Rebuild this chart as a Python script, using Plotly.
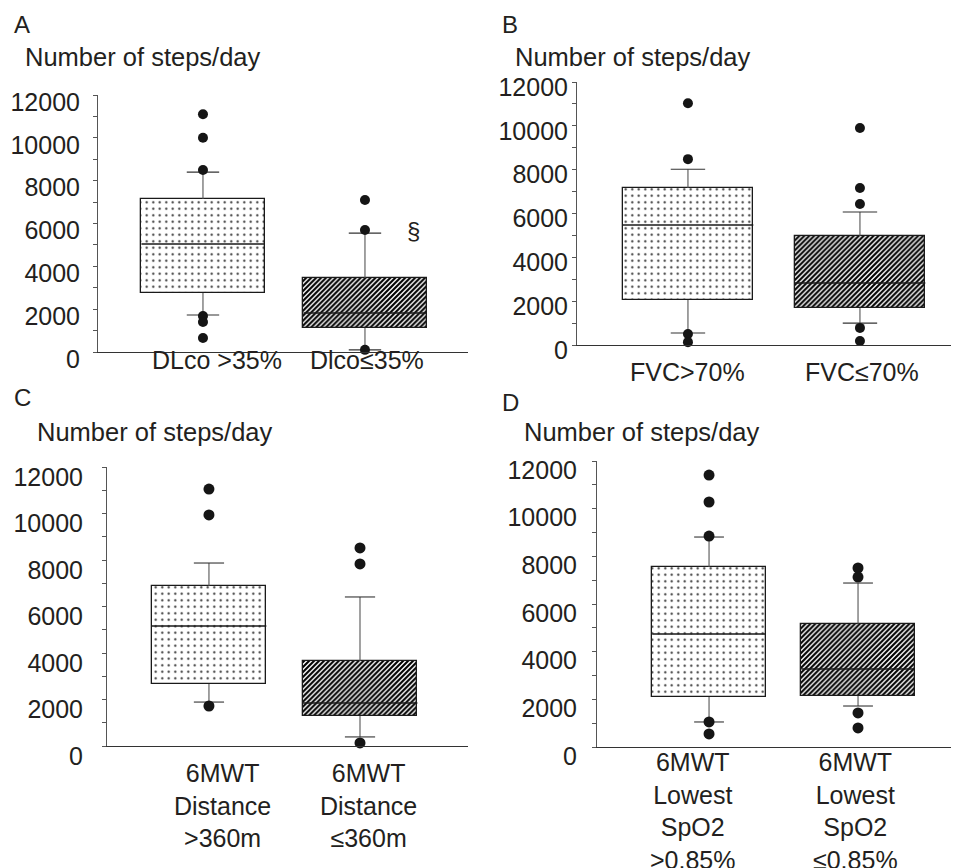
import plotly.graph_objects as go

# target canvas (page pixels) and the page's default body margin
W, H = 959, 868
OFF = 8
FW, FH = W - OFF, H - OFF
FONT = "Liberation Sans, Arial, Helvetica, sans-serif"
TXT = "#231f20"

# ---------------- data (number of steps/day) ----------------
y_ticks = [0, 2000, 4000, 6000, 8000, 10000, 12000]
y_tick_labels = ["0", "2000", "4000", "6000", "8000", "10000", "12000"]
y_minor_ticks = [1000, 3000, 5000, 7000, 9000, 11000]

A_labels = ["DLco >35%", "Dlco≤35%"]
A_q1 = [2750, 1120]
A_median = [5040, 1820]
A_q3 = [7140, 3450]
A_lower = [1730, 100]
A_upper = [8400, 5550]
A_outliers_1 = [11100, 10000, 8500, 1680, 1400, 650]
A_outliers_2 = [7100, 5700, 100]

B_labels = ["FVC>70%", "FVC≤70%"]
B_q1 = [2050, 1690]
B_median = [5470, 2830]
B_q3 = [7160, 4970]
B_lower = [550, 1000]
B_upper = [8020, 6070]
B_outliers_1 = [11030, 8480, 500, 130]
B_outliers_2 = [9900, 7160, 6430, 780, 180]

C_labels = ["6MWT<br>Distance<br>>360m", "6MWT<br>Distance<br>≤360m"]
C_q1 = [2670, 1290]
C_median = [5160, 1850]
C_q3 = [6880, 3660]
C_lower = [1890, 390]
C_upper = [7870, 6410]
C_outliers_1 = [11050, 9940, 1720]
C_outliers_2 = [8520, 7830, 130]

D_labels = ["6MWT<br>Lowest<br>SpO2<br>>0.85%", "6MWT<br>Lowest<br>SpO2<br>≤0.85%"]
D_q1 = [2100, 2140]
D_median = [4740, 3270]
D_q3 = [7550, 5160]
D_lower = [1050, 1720]
D_upper = [8810, 6880]
D_outliers_1 = [11410, 10280, 8850, 1050, 550]
D_outliers_2 = [7510, 7130, 1430, 800]

panel_letters = ["A", "B", "C", "D"]
y_title = "Number of steps/day"
sig_mark = "§"


def px_x(v):
    return (v - OFF) / FW


def px_y(v):
    return 1 - (v - OFF) / FH


# ---------------- layout geometry (page pixels) ----------------
panels = [
    dict(letter=panel_letters[0], labels=A_labels, q1=A_q1, med=A_median, q3=A_q3, lo=A_lower, hi=A_upper,
         o1=A_outliers_1, o2=A_outliers_2, xpx=(98, 468), ypx=(352, 95), xr=(0.352, 2.636),
         letter_pos=(12, 25), title_pos=(23, 57), label_pos=[(217, 360), (367, 360)],
         standoff=8, shift=7, msize=10),
    dict(letter=panel_letters[1], labels=B_labels, q1=B_q1, med=B_median, q3=B_q3, lo=B_lower, hi=B_upper,
         o1=B_outliers_1, o2=B_outliers_2, xpx=(577, 958), ypx=(345, 82), xr=(0.355, 2.570),
         letter_pos=(500, 25), title_pos=(513, 57), label_pos=[(687, 372), (862, 372)],
         standoff=-1, shift=5, msize=10),
    dict(letter=panel_letters[2], labels=C_labels, q1=C_q1, med=C_median, q3=C_q3, lo=C_lower, hi=C_upper,
         o1=C_outliers_1, o2=C_outliers_2, xpx=(107, 468), ypx=(746, 467), xr=(0.325, 2.715),
         letter_pos=(12, 397), title_pos=(35, 432), label_pos=[(222, 805), (368, 805)],
         standoff=14, shift=10, msize=11),
    dict(letter=panel_letters[3], labels=D_labels, q1=D_q1, med=D_median, q3=D_q3, lo=D_lower, hi=D_upper,
         o1=D_outliers_1, o2=D_outliers_2, xpx=(597, 958), ypx=(747, 461), xr=(0.248, 2.671),
         letter_pos=(500, 402), title_pos=(522, 432), label_pos=[(693, 811), (855, 811)],
         standoff=10, shift=9, msize=11),
]

BOX_W = 0.76
CAP = 0.1
positions = [1, 2]

fig = go.Figure()
annotations = []
layout_axes = {}

for k, p in enumerate(panels, start=1):
    s = "" if k == 1 else str(k)
    xa, ya = "x" + s, "y" + s

    # box bodies (patterned bars from q1 to q3)
    fig.add_trace(go.Bar(
        x=positions, y=[b - a for a, b in zip(p["q1"], p["q3"])], base=p["q1"], width=BOX_W,
        marker=dict(color="white", line=dict(color="#1a1a1a", width=1.3),
                    pattern=dict(shape=[".", "/"], fgcolor=["#333333", "#000000"],
                                 bgcolor="white", size=[6.5, 3.5], solidity=[0.09, 0.6],
                                 fillmode="replace")),
        xaxis=xa, yaxis=ya, showlegend=False, hoverinfo="skip"))

    # whiskers, caps, medians
    wx, wy, cx, cy, mx, my = [], [], [], [], [], []
    for pos, a, m, b, lo, hi in zip(positions, p["q1"], p["med"], p["q3"], p["lo"], p["hi"]):
        wx += [pos, pos, None, pos, pos, None]
        wy += [b, hi, None, a, lo, None]
        cx += [pos - CAP, pos + CAP, None, pos - CAP, pos + CAP, None]
        cy += [hi, hi, None, lo, lo, None]
        mx += [pos - BOX_W / 2, pos + BOX_W / 2, None]
        my += [m, m, None]
    fig.add_trace(go.Scatter(x=wx, y=wy, mode="lines", line=dict(color="#555555", width=1.1),
                             xaxis=xa, yaxis=ya, showlegend=False, hoverinfo="skip", cliponaxis=False))
    fig.add_trace(go.Scatter(x=cx, y=cy, mode="lines", line=dict(color="#333333", width=1.1),
                             xaxis=xa, yaxis=ya, showlegend=False, hoverinfo="skip", cliponaxis=False))
    fig.add_trace(go.Scatter(x=mx, y=my, mode="lines", line=dict(color="#1a1a1a", width=1.5),
                             xaxis=xa, yaxis=ya, showlegend=False, hoverinfo="skip"))

    # outliers
    ox = [positions[0]] * len(p["o1"]) + [positions[1]] * len(p["o2"])
    oy = p["o1"] + p["o2"]
    fig.add_trace(go.Scatter(x=ox, y=oy, mode="markers",
                             marker=dict(color="#151515", size=p["msize"], line=dict(width=0)),
                             xaxis=xa, yaxis=ya, showlegend=False, hoverinfo="skip", cliponaxis=False))

    layout_axes["xaxis" + s] = dict(
        domain=[px_x(p["xpx"][0]), min(1, px_x(p["xpx"][1]))], range=list(p["xr"]), anchor=ya,
        showline=True, linecolor="#333333", linewidth=1.2, showticklabels=False,
        ticks="", showgrid=False, zeroline=False, fixedrange=True, automargin=False)
    layout_axes["yaxis" + s] = dict(
        domain=[px_y(p["ypx"][0]), px_y(p["ypx"][1])], range=[0, 12000], anchor=xa,
        showline=True, linecolor="#555555", linewidth=1,
        tickmode="array", tickvals=y_ticks, ticktext=y_tick_labels,
        ticks="outside", ticklen=4, tickcolor="#555555", tickwidth=1,
        minor=dict(tickmode="array", tickvals=y_minor_ticks, ticks="outside", ticklen=4,
                   tickcolor="#555555", tickwidth=1),
        showgrid=False, zeroline=False, automargin=False,
        tickfont=dict(family=FONT, size=25, color=TXT),
        ticklabelstandoff=p["standoff"], ticklabelshift=p["shift"], fixedrange=True)

    # panel letter and y title
    annotations.append(dict(text=p["letter"], x=px_x(p["letter_pos"][0]), y=px_y(p["letter_pos"][1]),
                            xref="paper", yref="paper", xanchor="left", yanchor="middle",
                            showarrow=False, font=dict(family=FONT, size=24, color=TXT)))
    annotations.append(dict(text=y_title, x=px_x(p["title_pos"][0]), y=px_y(p["title_pos"][1]),
                            xref="paper", yref="paper", xanchor="left", yanchor="middle",
                            showarrow=False, font=dict(family=FONT, size=25.5, color=TXT)))
    # category labels
    for lab, (lx, ly) in zip(p["labels"], p["label_pos"]):
        annotations.append(dict(text=lab, x=px_x(lx), y=px_y(ly), xref="paper", yref="paper",
                                xanchor="center", yanchor="middle", align="center",
                                showarrow=False, font=dict(family=FONT, size=25, color=TXT)))

annotations.append(dict(text=sig_mark, x=px_x(413), y=px_y(230), xref="paper", yref="paper",
                        xanchor="center", yanchor="middle", showarrow=False,
                        font=dict(family=FONT, size=24, color=TXT)))

fig.update_layout(
    template="none",
    width=FW, height=FH, margin=dict(l=0, r=0, t=0, b=0, pad=0), autosize=False,
    paper_bgcolor="white", plot_bgcolor="white",
    font=dict(family=FONT, color=TXT), showlegend=False, bargap=0,
    annotations=annotations, **layout_axes)

fig.write_html("out.html", config={"displayModeBar": False})
